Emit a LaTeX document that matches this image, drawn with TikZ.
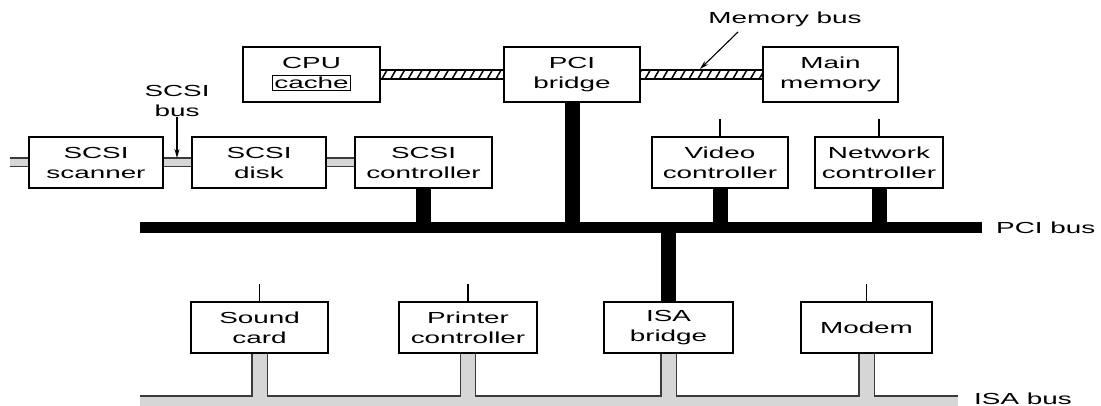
\documentclass[tikz,border=0pt]{standalone}
\usepackage{fontspec}
\setmainfont[FakeStretch=1.74]{Liberation Sans}
\usetikzlibrary{arrows.meta,patterns.meta,backgrounds}

\definecolor{busgray}{HTML}{D6D6D6}
\definecolor{busedge}{HTML}{3A3A3A}

\tikzset{
  unit/.style={draw, line width=1.5pt, fill=white, align=center, inner sep=0pt,
    minimum height=51pt, font=\fontsize{16}{20}\selectfont},
  topunit/.style={unit, minimum height=55pt},
  label/.style={inner sep=0pt, align=center, font=\fontsize{16}{20}\selectfont},
  pcilink/.style={line width=15pt, black},
  pcibus/.style={line width=11pt, black},
  graybusedge/.style={line width=#1, busedge},
  graybusfill/.style={line width=#1, busgray},
  hatchbar/.style={draw, line width=1.4pt, fill=white,
    postaction={pattern={Lines[angle=60, distance=7.6pt, line width=1.5pt]}}},
  tick/.style={line width=1.4pt},
  pointer/.style={line width=1.1pt, -{Stealth[length=9pt, width=5pt]}}
}

\begin{document}
\begin{tikzpicture}[x=1pt, y=-1pt]
  \useasboundingbox (0,0) rectangle (1101,406);

  % top row: processor, host bridge, memory
  \node[topunit, minimum width=137pt] (cpu) at (311.5,74.5)
    {CPU\\{\setlength\fboxsep{1pt}\setlength\fboxrule{1.1pt}\fbox{cache}}};
  \node[topunit, minimum width=136pt] (pci) at (572,74.5) {PCI\\bridge};
  \node[topunit, minimum width=135pt] (mem) at (830.5,74.5) {Main\\memory};

  % SCSI chain
  \node[unit, minimum width=134pt] (scan) at (96,162.5) {SCSI\\scanner};
  \node[unit, minimum width=134pt] (disk) at (259,162.5) {SCSI\\disk};
  \node[unit, minimum width=137pt] (ctl) at (423.5,162.5) {SCSI\\controller};

  % PCI devices
  \node[unit, minimum width=136pt] (vid) at (720,162.5) {Video\\controller};
  \node[unit, minimum width=128pt] (net) at (879,162.5) {Network\\controller};

  % ISA devices
  \node[unit, minimum width=137pt] (snd) at (259.5,327.5) {Sound\\card};
  \node[unit, minimum width=138pt] (prn) at (468,327.5) {Printer\\controller};
  \node[unit, minimum width=129pt] (isab) at (668.5,327.5) {ISA\\bridge};
  \node[unit, minimum width=131pt] (modem) at (866.5,327.5) {Modem};

  % bus end points
  \coordinate (pciL) at (140,227.5);
  \coordinate (pciR) at (982,227.5);
  \coordinate (isaL) at (140,401.5);
  \coordinate (isaR) at (958,401.5);
  \coordinate (scsiL) at (10,162.5);

  % bus labels
  \node[label, anchor=west] (pcilbl) at (996,227.5) {PCI bus};
  \node[label, anchor=west] (isalbl) at (974,399) {ISA bus};
  \node[label] (memlbl) at (785,19) {Memory bus};
  \node[label] (scsilbl) at (177,101) {SCSI\\bus};
  \coordinate (memfrom) at (738,32);
  \coordinate (memto) at (700,69);
  \coordinate (scsito) at (177,158);

  \begin{scope}[on background layer]
    % memory bus (hatched)
    \path[hatchbar] ([yshift=4.5pt]cpu.east) rectangle ([yshift=-4.5pt]pci.west);
    \path[hatchbar] ([yshift=4.5pt]pci.east) rectangle ([yshift=-4.5pt]mem.west);

    % PCI bus and its links
    \draw[pcibus] (pciL) -- (pciR);
    \draw[pcilink] (pci.south) -- (pci.south |- pciL);
    \draw[pcilink] (ctl.south) -- (ctl.south |- pciL);
    \draw[pcilink] (vid.south) -- (vid.south |- pciL);
    \draw[pcilink] (net.south) -- (net.south |- pciL);
    \draw[pcilink] (isab.north) -- (isab.north |- pciL);

    % SCSI bus segments
    \foreach \a/\b in {scsiL/scan.west, scan.east/disk.west, disk.east/ctl.west}{
      \draw[graybusedge=10pt] (\a) -- (\b);
      \draw[graybusfill=7.4pt] (\a) -- (\b);
    }

    % ISA bus: outline pass, then fill pass
    \draw[graybusedge=12.6pt] (isaL) -- (isaR);
    \foreach \n in {snd, prn, isab, modem}
      \draw[graybusedge=16.4pt] (\n.south) -- (\n.south |- isaL);
    \draw[graybusfill=10pt] (isaL) -- (isaR);
    \foreach \n in {snd, prn, isab, modem}
      \draw[graybusfill=14pt] (\n.south) -- (\n.south |- isaL);
  \end{scope}

  % short stubs on top of the cards
  \foreach \n in {vid, net, snd, prn, modem}
    \draw[tick] (\n.north) -- ++(0,-17);

  % bus name pointers
  \draw[pointer] (memfrom) -- (memto);
  \draw[pointer] (scsilbl.south) -- (scsito);
\end{tikzpicture}
\end{document}
